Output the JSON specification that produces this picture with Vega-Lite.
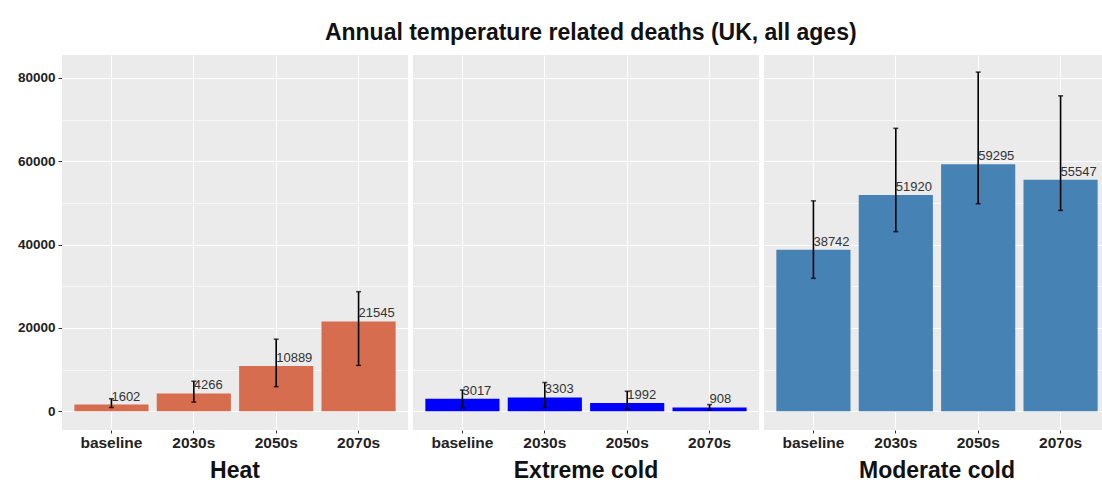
{
  "$schema": "https://vega.github.io/schema/vega-lite/v6.json",
  "padding": {"left": 17, "top": 22, "right": 0, "bottom": 0},
  "title": {"text": "Annual temperature related deaths (UK, all ages)", "fontSize": 23, "fontWeight": "bold", "font": "Liberation Sans", "color": "#111111", "anchor": "middle", "offset": 10, "dx": 27},
  "data": {"values": [
    {"type": "Heat", "period": "baseline", "deaths": 1602, "lo": 900, "hi": 3000},
    {"type": "Heat", "period": "2030s", "deaths": 4266, "lo": 2200, "hi": 7200},
    {"type": "Heat", "period": "2050s", "deaths": 10889, "lo": 5900, "hi": 17300},
    {"type": "Heat", "period": "2070s", "deaths": 21545, "lo": 11000, "hi": 28700},
    {"type": "Extreme cold", "period": "baseline", "deaths": 3017, "lo": 800, "hi": 5100},
    {"type": "Extreme cold", "period": "2030s", "deaths": 3303, "lo": 900, "hi": 6900},
    {"type": "Extreme cold", "period": "2050s", "deaths": 1992, "lo": 500, "hi": 4800},
    {"type": "Extreme cold", "period": "2070s", "deaths": 908, "lo": 300, "hi": 1600},
    {"type": "Moderate cold", "period": "baseline", "deaths": 38742, "lo": 31900, "hi": 50500},
    {"type": "Moderate cold", "period": "2030s", "deaths": 51920, "lo": 43100, "hi": 67900},
    {"type": "Moderate cold", "period": "2050s", "deaths": 59295, "lo": 49800, "hi": 81400},
    {"type": "Moderate cold", "period": "2070s", "deaths": 55547, "lo": 48200, "hi": 75700}
  ]},
  "facet": {
    "column": {"field": "type", "type": "nominal", "sort": ["Heat", "Extreme cold", "Moderate cold"],
      "header": {"title": null, "labelOrient": "bottom", "labelFontSize": 23, "labelFontWeight": "bold", "labelFont": "Liberation Sans", "labelColor": "#111111", "labelPadding": 9}}
  },
  "spacing": 5,
  "spec": {
    "width": 346,
    "height": 375,
    "encoding": {
      "x": {"field": "period", "type": "nominal", "sort": ["baseline", "2030s", "2050s", "2070s"],
        "scale": {"paddingInner": 0.1, "paddingOuter": 0.15},
        "axis": {"title": null, "labelAngle": 0, "bandPosition": 0.5, "grid": true, "gridColor": "#FFFFFF", "gridWidth": 1, "domain": false, "tickColor": "#333333", "tickSize": 3, "labelFontSize": 15.5, "labelFontWeight": "bold", "labelFont": "Liberation Sans", "labelColor": "#222222", "labelPadding": 2}}
    },
    "layer": [
      {
        "mark": {"type": "bar"},
        "encoding": {
          "y": {"field": "deaths", "type": "quantitative", "scale": {"domain": [-4500, 85500], "nice": false, "zero": false},
            "axis": {"title": null, "values": [0, 10000, 20000, 30000, 40000, 50000, 60000, 70000, 80000],
              "labelExpr": "datum.value % 20000 === 0 ? datum.value : ''",
              "gridColor": "#FFFFFF",
              "gridWidth": {"condition": {"test": "datum.value % 20000 === 0", "value": 1.2}, "value": 0.6},
              "tickOpacity": {"condition": {"test": "datum.value % 20000 === 0", "value": 1}, "value": 0},
              "domain": false, "tickColor": "#333333", "tickSize": 4, "labelFontSize": 13.5, "labelFontWeight": "bold", "labelFont": "Liberation Sans", "labelColor": "#222222", "labelPadding": 3}},
          "color": {"field": "type", "type": "nominal", "scale": {"domain": ["Heat", "Extreme cold", "Moderate cold"], "range": ["#D66D4E", "#0000FF", "#4682B4"]}, "legend": null}
        }
      },
      {
        "mark": {"type": "rule", "color": "#000000", "strokeWidth": 1.6},
        "encoding": {"y": {"field": "lo", "type": "quantitative"}, "y2": {"field": "hi"}}
      },
      {
        "mark": {"type": "tick", "color": "#000000", "size": 5, "thickness": 1.6, "orient": "horizontal"},
        "encoding": {"y": {"field": "hi", "type": "quantitative"}}
      },
      {
        "mark": {"type": "tick", "color": "#000000", "size": 5, "thickness": 1.6, "orient": "horizontal"},
        "encoding": {"y": {"field": "lo", "type": "quantitative"}}
      },
      {
        "mark": {"type": "text", "align": "left", "baseline": "bottom", "dx": 0, "dy": -1, "fontSize": 13, "font": "Liberation Sans", "color": "#333333", "clip": true},
        "encoding": {"y": {"field": "deaths", "type": "quantitative"}, "text": {"field": "deaths", "type": "quantitative", "format": "d"}}
      }
    ]
  },
  "resolve": {"scale": {"x": "independent"}},
  "config": {
    "view": {"fill": "#EBEBEB", "stroke": null},
    "axis": {"gridColor": "#FFFFFF"}
  }
}
